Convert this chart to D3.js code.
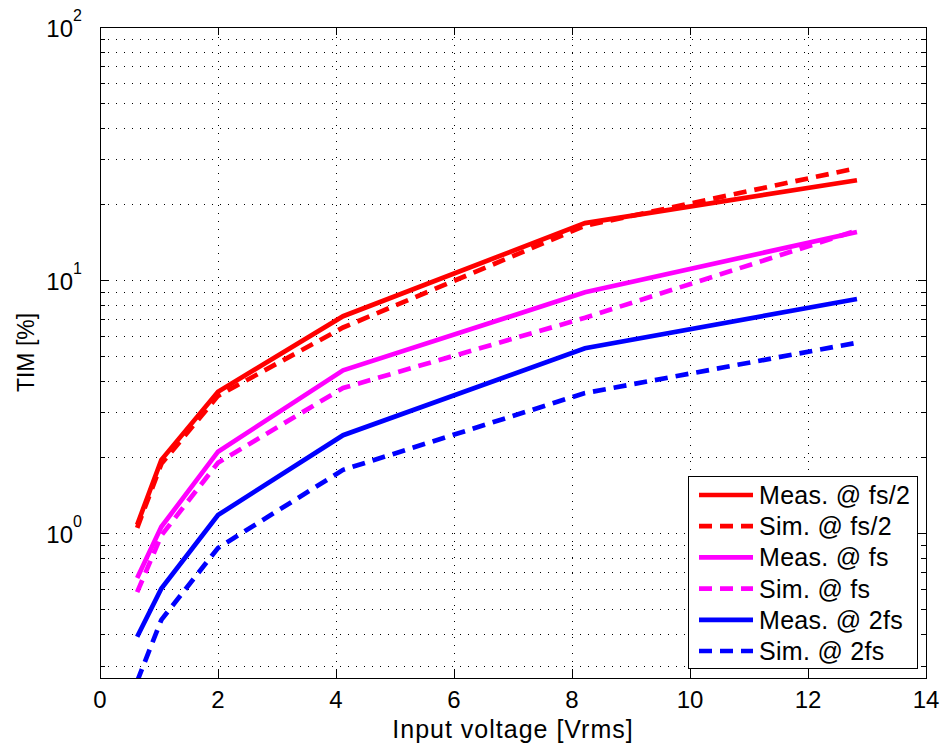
<!DOCTYPE html>
<html>
<head>
<meta charset="utf-8">
<script src="https://cdn.jsdelivr.net/npm/d3@7/dist/d3.min.js"></script>
<style>
  html, body { margin: 0; padding: 0; background: #fff; }
  svg { display: block; font-family: "Liberation Sans", Arial, Helvetica, sans-serif; }
</style>
</head>
<body>
<svg id="chart" width="947" height="747"></svg>
<script>
// ---- data ----
const xValues = [0.63, 1.04, 2.0, 4.12, 8.22, 12.83];
const measHalf = [1.08, 1.95, 3.62, 7.2, 16.8, 24.8];
const simHalf  = [1.05, 1.88, 3.49, 6.5, 16.4, 27.7];
const measFs   = [0.665, 1.06, 2.1, 4.4, 8.95, 15.5];
const simFs    = [0.585, 0.98, 1.9, 3.75, 7.1, 15.7];
const meas2fs  = [0.39, 0.605, 1.18, 2.44, 5.38, 8.42];
const sim2fs   = [0.26, 0.455, 0.875, 1.78, 3.58, 5.66];
const seriesNames = ["Meas. @ fs/2", "Sim. @ fs/2", "Meas. @ fs", "Sim. @ fs", "Meas. @ 2fs", "Sim. @ 2fs"];
const seriesColors = ["#ff0000", "#ff0000", "#ff00ff", "#ff00ff", "#0000ff", "#0000ff"];
const seriesDashed = [false, true, false, true, false, true];
const xTicks = [0, 2, 4, 6, 8, 10, 12, 14];
const yMajorExps = [0, 1, 2];
const xLabel = "Input voltage [Vrms]";
const yLabel = "TIM [%]";

const seriesValues = [measHalf, simHalf, measFs, simFs, meas2fs, sim2fs];

// ---- layout ----
const pL = 100, pR = 926, pT = 27, pB = 678;
const svg = d3.select("#chart");
const x = d3.scaleLinear().domain([0, 14]).range([pL, pR]);
const y = d3.scaleLog().domain([0.268, 100]).range([pB, pT]);

// grid lines
const gridG = svg.append("g").attr("stroke", "#000").attr("stroke-width", 1)
  .attr("stroke-dasharray", "1,7").attr("shape-rendering", "crispEdges");
xTicks.filter(t => t > 0 && t < 14).forEach(t => {
  gridG.append("line").attr("x1", Math.round(x(t)) + 0.5).attr("x2", Math.round(x(t)) + 0.5)
    .attr("y1", pB).attr("y2", pT);
});
const minorVals = [];
for (let e = -1; e <= 1; e++) {
  for (let m = 1; m <= 9; m++) {
    const v = m * Math.pow(10, e);
    if (v >= 0.268 && v <= 100) minorVals.push(v);
  }
}
minorVals.push(100);
minorVals.forEach(v => {
  if (v === 100) return;
  gridG.append("line").attr("x1", pL).attr("x2", pR)
    .attr("y1", Math.round(y(v)) + 0.5).attr("y2", Math.round(y(v)) + 0.5);
});

// ticks (inward)
const tickG = svg.append("g").attr("stroke", "#000").attr("stroke-width", 1).attr("shape-rendering", "crispEdges");
xTicks.forEach(t => {
  const px = Math.round(x(t)) + 0.5;
  tickG.append("line").attr("x1", px).attr("x2", px).attr("y1", pB).attr("y2", pB - 8);
  tickG.append("line").attr("x1", px).attr("x2", px).attr("y1", pT).attr("y2", pT + 8);
});
minorVals.forEach(v => {
  const py = Math.round(y(v)) + 0.5;
  const isMajor = Math.abs(Math.log10(v) - Math.round(Math.log10(v))) < 1e-9;
  const len = isMajor ? 8 : 5;
  tickG.append("line").attr("x1", pL).attr("x2", pL + len).attr("y1", py).attr("y2", py);
  tickG.append("line").attr("x1", pR).attr("x2", pR - len).attr("y1", py).attr("y2", py);
});

// lines
svg.append("clipPath").attr("id", "clip").append("rect")
  .attr("x", pL).attr("y", pT).attr("width", pR - pL).attr("height", pB - pT);
const line = d3.line().x((d, i) => x(xValues[i])).y(d => y(d));
const linesG = svg.append("g").attr("clip-path", "url(#clip)");
seriesValues.forEach((vals, i) => {
  linesG.append("path").datum(vals).attr("d", line)
    .attr("fill", "none").attr("stroke", seriesColors[i]).attr("stroke-width", 4.7)
    .attr("stroke-linejoin", "miter")
    .attr("stroke-dasharray", seriesDashed[i] ? "13,8" : null);
});

// frame
svg.append("rect").attr("x", pL + 0.5).attr("y", pT + 0.5)
  .attr("width", pR - pL).attr("height", pB - pT)
  .attr("fill", "none").attr("stroke", "#000").attr("stroke-width", 1).attr("shape-rendering", "crispEdges");

// x tick labels
const fs = 24;
xTicks.forEach(t => {
  svg.append("text").attr("x", x(t)).attr("y", 708).attr("text-anchor", "middle")
    .attr("font-size", fs).attr("fill", "#000").text(t);
});
// y tick labels
yMajorExps.forEach(e => {
  const py = y(Math.pow(10, e));
  svg.append("text").attr("x", 73).attr("y", py + 10).attr("text-anchor", "end")
    .attr("font-size", fs).attr("fill", "#000").text("10");
  svg.append("text").attr("x", 73).attr("y", py - 6).attr("text-anchor", "start")
    .attr("font-size", 16).attr("fill", "#000").text(e);
});

// axis labels
svg.append("text").attr("x", (pL + pR) / 2).attr("y", 738).attr("text-anchor", "middle")
  .attr("font-size", 25).attr("letter-spacing", 1).attr("fill", "#000").text(xLabel);
svg.append("text").attr("transform", `translate(34,${(pT + pB) / 2}) rotate(-90)`)
  .attr("text-anchor", "middle").attr("font-size", 23).attr("fill", "#000").text(yLabel);

// legend
const lg = svg.append("g");
lg.append("rect").attr("x", 688.5).attr("y", 476.5).attr("width", 229).attr("height", 192)
  .attr("fill", "#fff").attr("stroke", "#000").attr("stroke-width", 1).attr("shape-rendering", "crispEdges");
seriesNames.forEach((name, i) => {
  const cy = 495 + i * 31.2;
  lg.append("line").attr("x1", 699).attr("x2", 753).attr("y1", cy).attr("y2", cy)
    .attr("stroke", seriesColors[i]).attr("stroke-width", 4.7)
    .attr("stroke-dasharray", seriesDashed[i] ? "13,8" : null);
  lg.append("text").attr("x", 759).attr("y", cy + 9).attr("font-size", 25)
    .attr("letter-spacing", 0.3).attr("fill", "#000").text(name);
});
</script>
</body>
</html>
